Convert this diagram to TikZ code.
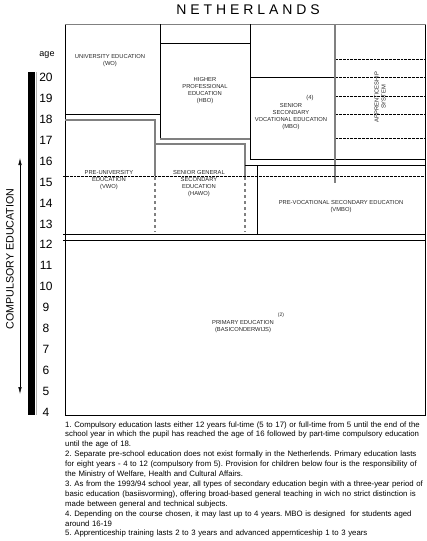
\documentclass[tikz,border=0pt]{standalone}
\usepackage{fontspec}
\setmainfont{Liberation Sans}
\newfontfamily\titlefont[LetterSpace=28]{Liberation Sans}
\usetikzlibrary{arrows.meta}
\definecolor{lgray}{gray}{0.5}
\begin{document}
\frenchspacing
\begin{tikzpicture}[x=1pt,y=-1pt,
  bl/.style={draw=black,line width=0.9pt},
  gl/.style={draw=lgray,line width=1.6pt},
  dl/.style={draw=lgray,line width=1.4pt,dash pattern=on 2.5pt off 3.5pt},
  dotl/.style={draw=black,line width=0.6pt,dash pattern=on 0.45pt off 0.9pt},
  lab/.style={font=\fontsize{5.8}{7}\selectfont,align=center,inner sep=0pt,text=black!85},
  agen/.style={font=\fontsize{12}{12}\selectfont,inner sep=0pt},
]
\useasboundingbox (0,0) rectangle (427,541);
% title
\node[font=\titlefont\fontsize{14}{14}\selectfont,inner sep=0pt] (title) at (248,10) {NETHERLANDS};
% outer frame
\draw[bl] (65,24) -- (65,415) -- (425,415) -- (425,24);
\draw[gl] (64.5,24.5) -- (425.5,24.5);
% university / HBO
\draw[bl] (65,114) -- (160,114);
\draw[bl] (160,24) -- (160,139);
\draw[bl] (160,43) -- (250,43);
\draw[gl] (160,139) -- (250,139);
% MBO
\draw[bl] (250,24) -- (250,159) -- (425,159);
\draw[bl] (250,77) -- (335,77);
\draw[gl] (335,24) -- (335,183);
% apprenticeship dotted lines
\foreach \yy in {59,77,96,114,138} \draw[dotl] (336,\yy) -- (425,\yy);
% VWO / HAVO
\draw[gl] (65,120) -- (155,120) -- (155,176);
\draw[gl] (155,144) -- (245,144) -- (245,176);
\draw[dl] (155,177) -- (155,232);
\draw[dl] (245,177) -- (245,232);
% VMBO
\draw[bl] (245,165) -- (425,165);
\draw[bl] (257,165) -- (257,234);
% age 15 dotted line
\draw[dotl] (63,176) -- (425,176);
% lines at 12
\draw[bl] (63,234) -- (425,234);
\draw[bl] (63,240) -- (425,240);
% labels
\node[lab] (wo) at (110,60.5) {UNIVERSITY EDUCATION\\(WO)};
\node[lab] (hbo) at (205,90.5) {HIGHER\\PROFESSIONAL\\EDUCATION\\(HBO)};
\node[lab] (mbo) at (291,116.5) {SENIOR\\SECONDARY\\VOCATIONAL EDUCATION\\(MBO)};
\node[lab] (mbon) at (310,98) {(4)};
\node[lab,rotate=90] (app) at (380,97) {APPRENTICESHIP\\SYSTEM};
\node[lab] (vwo) at (109,180) {PRE-UNIVERSITY\\EDUCATION\\(VWO)};
\node[lab] (havo) at (199,183.5) {SENIOR GENERAL\\SECONDARY\\EDUCATION\\(HAWO)};
\node[lab] (vmbo) at (341,206.5) {PRE-VOCATIONAL SECONDARY EDUCATION\\(VMBO)};
\node[lab] (prim) at (243,326.5) {PRIMARY EDUCATION\\(BASICONDERWIJS)};
\node[lab,font=\fontsize{5}{6}\selectfont] (primn) at (281,315) {(2)};
% age axis
\node[font=\fontsize{9}{9}\selectfont,inner sep=0pt] (agelab) at (47,55) {age};
\fill[black] (28,72) rectangle (35,415);
\draw[lgray!60,line width=0.8pt] (36,72) -- (36,415);
\foreach \a in {4,...,20} \node[agen] (age\a) at (46,{412-(\a-4)*20.9}) {\a};
% compulsory arrow
\coordinate (atop) at (20,158);
\coordinate (abot) at (20,394);
\draw[line width=0.6pt,{Latex[length=7pt,width=3.5pt]}-{Latex[length=7pt,width=3.5pt]}] (atop) -- (abot);
\node[rotate=90,font=\fontsize{10.7}{11}\selectfont,inner sep=0pt] (comp) at (10,259) {COMPULSORY EDUCATION};
% footnotes
\node[anchor=base west,inner sep=0pt,text width=400pt,align=left,font=\fontsize{7.8}{9.9}\selectfont] (notes) at (65,427) {%
1. Compulsory education lasts either 12 years ful-time (5 to 17) or full-time from 5 until the end of the\\
school year in which the pupil has reached the age of 16 followed by part-time compulsory education\\
until the age of 18.\\
2. Separate pre-school education does not exist formally in the Netherlends. Primary education lasts\\
for eight years - 4 to 12 (compulsory from 5). Provision for children below four is the responsibility of\\
the Ministry of Welfare, Health and Cultural Affairs.\\
3. As from the 1993/94 school year, all types of secondary education begin with a three-year period of\\
basic education (basiisvorming), offering broad-based general teaching in wich no strict distinction is\\
made between general and technical subjects.\\
4. Depending on the course chosen, it may last up to 4 years. MBO is designed\ \ for students aged\\
around 16-19\\
5. Apprenticeship training lasts 2 to 3 years and advanced appernticeship 1 to 3 years};
\end{tikzpicture}
\end{document}
